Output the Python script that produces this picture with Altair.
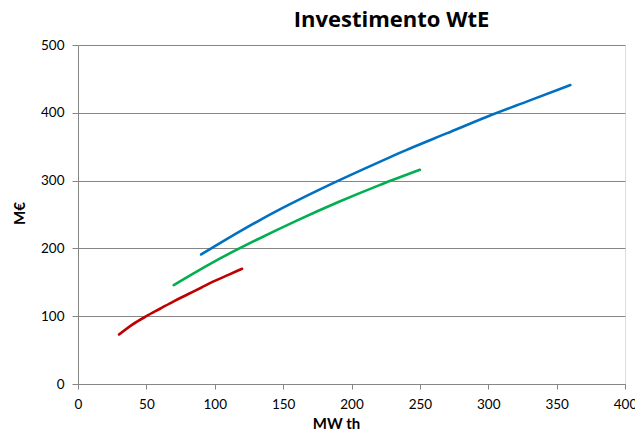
import altair as alt
import pandas as pd

# Series
blue_x = [90, 120, 150, 180, 210, 240, 270, 300, 330, 360]
blue_y = [191, 227, 260, 290, 318, 345, 370, 395, 418, 441]

green_x = [70, 100, 130, 160, 190, 220, 250]
green_y = [146, 181, 212, 241, 268, 293, 316]

red_x = [30, 40, 50, 60, 70, 80, 90, 100, 110, 120]
red_y = [73, 88, 100, 111, 122, 132, 142, 152, 161, 170]

x_ticks = [0, 50, 100, 150, 200, 250, 300, 350, 400]
y_ticks = [0, 100, 200, 300, 400, 500]

series_names = ["A", "B", "C"]
series_colors = ["#0070C0", "#00B050", "#C00000"]

rows = []
for name, xs, ys in zip(series_names, [blue_x, green_x, red_x], [blue_y, green_y, red_y]):
    for xv, yv in zip(xs, ys):
        rows.append({"serie": name, "x": xv, "y": yv})
df = pd.DataFrame(rows)

FONT = "Lato"

chart = (
    alt.Chart(df)
    .mark_line(strokeWidth=2.6, interpolate="monotone", strokeCap="round")
    .encode(
        x=alt.X(
            "x:Q",
            scale=alt.Scale(domain=[0, 400], nice=False, zero=True),
            axis=alt.Axis(
                values=x_ticks,
                grid=False,
                tickSize=5,
                tickColor="#868686",
                domainColor="#868686",
                labelPadding=8,
                labelFontSize=13.5,
                labelFont=FONT,
                labelColor="#000000",
                labelFlush=False,
                title="MW th",
                titleFont=FONT,
                titleFontSize=15,
                titleFontWeight="bold",
                titleColor="#000000",
                titleX=258,
                titleY=44,
                titleBaseline="alphabetic",
            ),
        ),
        y=alt.Y(
            "y:Q",
            scale=alt.Scale(domain=[0, 500], nice=False),
            axis=alt.Axis(
                values=y_ticks,
                grid=True,
                gridColor="#868686",
                gridWidth=1,
                tickSize=6,
                tickColor="#868686",
                domainColor="#868686",
                labelPadding=8,
                labelFontSize=13.5,
                labelFont=FONT,
                labelColor="#000000",
                title="M€",
                titleFont=FONT,
                titleFontSize=15,
                titleFontWeight="bold",
                titleColor="#000000",
                titleX=-59,
                titleY=168,
                titleBaseline="middle",
            ),
        ),
        color=alt.Color(
            "serie:N",
            scale=alt.Scale(domain=series_names, range=series_colors),
            legend=None,
        ),
        detail="serie:N",
    )
    .properties(
        width=547,
        height=339,
        title=alt.TitleParams(
            "Investimento WtE",
            font="Open Sans",
            fontSize=22,
            fontWeight="bold",
            color="#000000",
            anchor="middle",
            frame="group",
            dx=40,
            dy=11,
            offset=0,
            baseline="alphabetic",
        ),
        autosize=alt.AutoSizeParams(type="none"),
        padding={"left": 78, "top": 45, "right": 10, "bottom": 48},
    )
    .configure_view(stroke="#7a7a7a", strokeWidth=1.2)
    .configure(background="white")
)

chart.save("out.html", embed_options={"renderer": "svg", "actions": False})
